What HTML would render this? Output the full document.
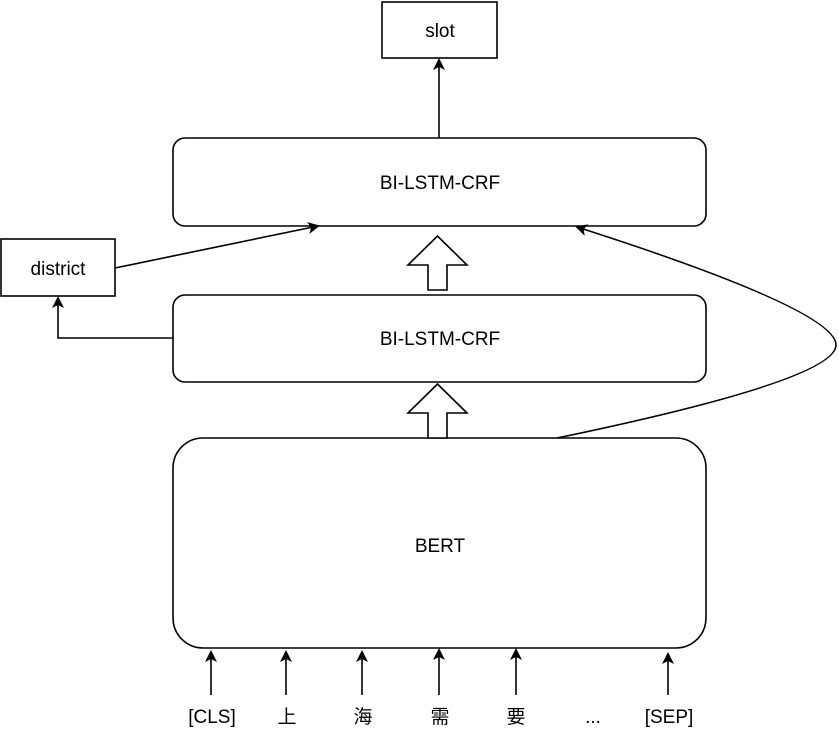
<!DOCTYPE html>
<html><head><meta charset="utf-8"><style>
body{margin:0;background:#fff}
svg text{font-family:"Liberation Sans","Noto Sans CJK SC",sans-serif;font-size:19px;fill:#000}
</style></head><body>
<svg width="839" height="734" viewBox="0 0 839 734" xmlns="http://www.w3.org/2000/svg">
<defs>
<marker id="a" markerWidth="12" markerHeight="12" refX="10" refY="6" orient="auto" markerUnits="userSpaceOnUse">
<path d="M0,0 L12,6 L0,12 L3,6 Z" fill="#000"/>
</marker>
</defs>
<g fill="#fff" stroke="#000" stroke-width="1.6">
<rect x="382" y="2" width="115" height="56"/>
<rect x="173" y="138" width="533" height="88" rx="12"/>
<rect x="1" y="239" width="114" height="57"/>
<rect x="173" y="295" width="533" height="87" rx="12"/>
<rect x="173" y="438" width="533" height="210" rx="30"/>
<path d="M428,290 L428,265 L408,265 L437.5,236 L467,265 L447,265 L447,290 Z"/>
<path d="M428,438 L428,413 L408,413 L437.5,384 L467,413 L447,413 L447,438 Z"/>
</g>
<g stroke="#000" stroke-width="1.6" fill="none">
<line x1="439" y1="138" x2="439" y2="60" marker-end="url(#a)"/>
<line x1="115" y1="268" x2="318" y2="226" marker-end="url(#a)"/>
<path d="M173,338 L58,338 L58,298" marker-end="url(#a)"/>
<path d="M557,438 Q836,380 836,345 Q836,310 577,227" marker-end="url(#a)"/>
<line x1="211" y1="695" x2="211" y2="652" marker-end="url(#a)"/>
<line x1="286" y1="695" x2="286" y2="652" marker-end="url(#a)"/>
<line x1="362" y1="695" x2="362" y2="652" marker-end="url(#a)"/>
<line x1="439" y1="695" x2="439" y2="650" marker-end="url(#a)"/>
<line x1="516" y1="695" x2="516" y2="650" marker-end="url(#a)"/>
<line x1="668" y1="695" x2="668" y2="654" marker-end="url(#a)"/>
</g>
<g text-anchor="middle">
<text x="440" y="37">slot</text>
<text x="440" y="189">BI-LSTM-CRF</text>
<text x="58" y="275">district</text>
<text x="440" y="345">BI-LSTM-CRF</text>
<text x="440" y="552">BERT</text>
<text x="212" y="723">[CLS]</text>
<text x="287" y="723">上</text>
<text x="363" y="723">海</text>
<text x="440" y="723">需</text>
<text x="516" y="723">要</text>
<text x="593" y="723">...</text>
<text x="669" y="723">[SEP]</text>
</g>
</svg>
</body></html>
